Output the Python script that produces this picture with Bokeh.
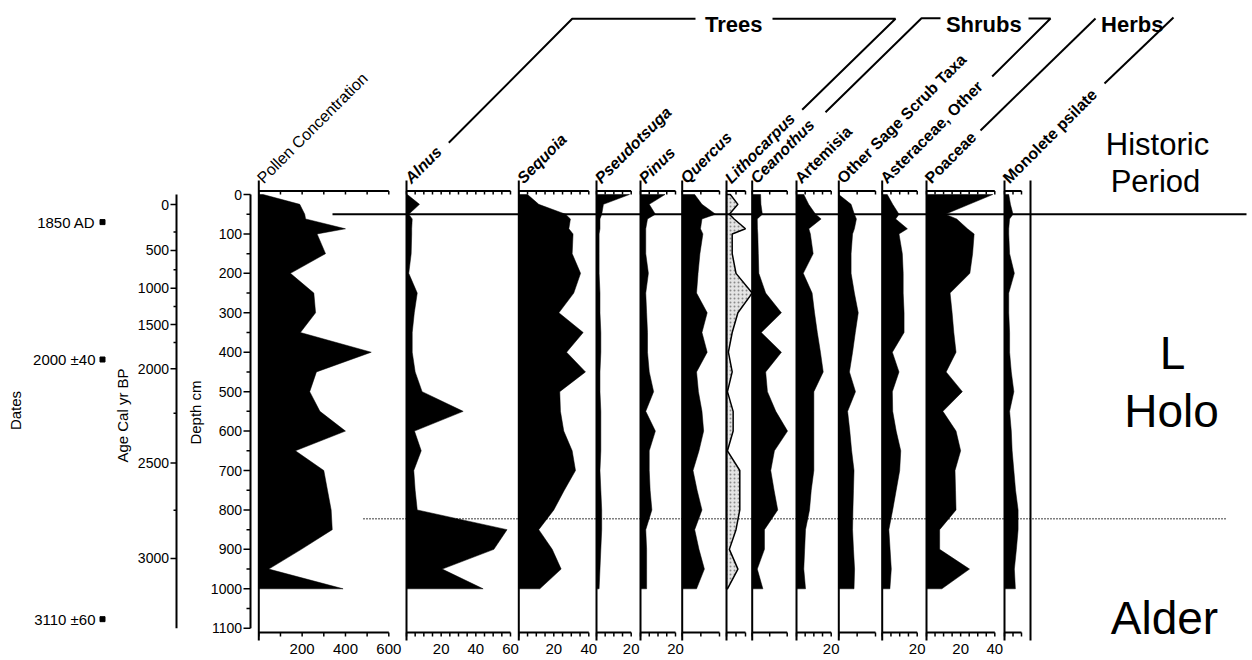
import numpy as np
from bokeh.plotting import figure
from bokeh.models import Range1d
from bokeh.embed import file_html
from bokeh.resources import INLINE
from bokeh.core.properties import value

# ---------------- DATA ----------------
depths = [0, 25, 50, 62, 87, 100, 150, 200, 250, 300, 350, 400, 450, 500,
          550, 600, 650, 700, 750, 800, 850, 900, 950, 1000]

pollen_conc = [20, 189, 212, 216, 400, 269, 308, 146, 254, 262, 192, 519, 266, 235,
               282, 400, 169, 300, 317, 334, 339, 196, 46, 389]
alnus = [0.5, 7.5, 1.3, 3.3, 3, 3, 2.7, 1.3, 6.2, 4.5, 3.3, 3.3, 5, 9,
         32.7, 4.6, 8.5, 4.2, 5, 6.2, 58, 50.4, 20.6, 44.2]
sequoia = [5, 11.4, 26.7, 29.5, 28.6, 31, 30.5, 35.3, 31.4, 22.9, 36.8, 27.3, 38.1, 23.4,
           23.8, 25.7, 30.5, 32.4, 26, 20, 11.4, 19.1, 24.2, 12]
pseudotsuga = [19, 4, 3, 2, 2, 1.5, 1.5, 1.5, 2, 2, 2.5, 2.5, 2, 2,
               2.5, 2.5, 2.5, 2, 2.5, 3, 3, 2.5, 2, 1.5]
pinus = [14, 5, 8.5, 4, 3, 3, 3, 4.5, 3, 3.5, 4, 4, 5, 7.5,
         3, 8.5, 5, 5, 5.5, 6.5, 3, 3.5, 3.5, 3.5]
quercus = [6.7, 10.6, 17.9, 10.6, 9.8, 11.1, 9.5, 8.5, 7.7, 13.4, 10.6, 13.4, 7.7, 8.7,
           10.6, 11.5, 9, 5.8, 8, 10.6, 6.7, 9, 11.9, 7.7]
lithocarpus = [2, 6, 1.5, 4, 10, 3, 3, 5, 13.5, 6, 3, 1, 3, 0.5,
               3.5, 3.5, 0.5, 7, 7, 7, 5, 1.5, 6, 0.5]
ceanothus = [4.8, 5, 5.8, 2.9, 3, 3.2, 3.5, 3.8, 7.7, 16.7, 5.2, 16.7, 7.7, 8.7,
             13.5, 20.2, 12.7, 10.6, 12.5, 14.6, 7, 7, 2.9, 6.1]
artemisia = [4.2, 7, 11, 14.2, 7.1, 8, 9.6, 3.9, 9, 10.4, 12, 13.8, 15.4, 10,
             10, 10, 10, 10, 8.5, 7.5, 5.2, 4.7, 4.2, 5.2]
other_sage = [0, 6.7, 8.5, 9.6, 8.5, 7.5, 6.7, 6.7, 8.5, 10.6, 9, 7.5, 5.8, 9.1,
              4.8, 6, 7, 8.3, 8, 7.7, 7.5, 8, 8.6, 8.3]
asteraceae = [2.9, 6, 9.6, 7.7, 14.4, 9.6, 11.5, 12, 12, 12.5, 12.5, 5.8, 9.6, 5.8,
              6, 8, 10.6, 10, 8, 6, 3.8, 4.5, 5.2, 4.4]
poaceae = [38.8, 25, 11, 17.7, 24, 27.9, 27, 25.4, 13.8, 15, 16, 17.3, 11.5, 21,
           9.6, 17.3, 20, 16.7, 17, 17.3, 7.7, 7.7, 25.2, 9]
monolete = [2.5, 3.5, 5, 3, 2.5, 2.5, 3, 5.8, 2.5, 2.5, 3, 3, 4, 5.5,
            3, 4, 4.5, 5.5, 6.5, 8, 8, 7, 5.8, 6.4]

taxa_names = ["Pollen Concentration", "Alnus", "Sequoia", "Pseudotsuga", "Pinus", "Quercus",
              "Lithocarpus", "Ceanothus", "Artemisia", "Other Sage Scrub Taxa",
              "Asteraceae, Other", "Poaceae", "Monolete psilate"]
taxa_values = [pollen_conc, alnus, sequoia, pseudotsuga, pinus, quercus, lithocarpus,
               ceanothus, artemisia, other_sage, asteraceae, poaceae, monolete]
axis_max = [600, 60, 40, 20, 20, 20, 10, 20, 20, 20, 20, 40, 10]
tick_step = [100, 5, 5, 5, 5, 10, 5, 10, 5, 10, 5, 5, 5]
tick_labels = [[200, 400, 600], [20, 40, 60], [20, 40], [20], [20], [], [], [],
               [20], [], [20], [20, 40], []]

depth_ticks = list(range(0, 1101, 100))
depth_minor = list(range(50, 1100, 100))

age_ticks = [0, 500, 1000, 1500, 2000, 2500, 3000]
age_tick_depth = [25.4, 142, 237.8, 329.7, 442, 681, 923]
age_minor_depth = [95, 191, 284, 375.6, 555, 801]

dates = ["1850 AD", "2000 \u00b140", "3110 \u00b160"]
date_depth = [70, 418.5, 1077]

historic_depth = 50
alder_depth = 822.5

groups = ["Trees", "Shrubs", "Herbs"]
zones = ["Historic", "Period", "L", "Holo", "Alder"]

# ---------------- LAYOUT ----------------
W, H = 1252, 660
Y0, PXCM = 194.0, 0.3943


def dy(img_y):
    return (img_y - Y0) / PXCM


panel_left = [258.3, 406, 518.3, 596, 640, 681.7, 726, 751.7, 796, 838.3, 881.7, 926, 1004]
panel_right = [388.3, 510, 588.3, 630.7, 675, 719, 745, 786.7, 830.7, 875, 916.7, 994.3, 1021]
label_style = ["normal", "bold italic", "bold italic", "bold italic", "bold italic",
               "bold italic", "bold italic", "bold italic", "bold", "bold", "bold",
               "bold", "bold"]

FONT = value("Liberation Sans")

p = figure(width=W, height=H, x_range=Range1d(0, W),
           y_range=Range1d(dy(H), dy(0)),
           output_backend="svg", toolbar_location=None, min_border=0,
           x_axis_location=None, y_axis_location=None)
p.grid.visible = False
p.outline_line_color = None
p.background_fill_color = "white"

TOP_AX, BOT_AX, LINE_TOP, LINE_BOT = 190.5, 632, 180, 640

for i, (name, vals) in enumerate(zip(taxa_names, taxa_values)):
    left, right, vmax = panel_left[i], panel_right[i], axis_max[i]
    k = (right - left) / vmax
    rn = "p%d" % i
    p.extra_x_ranges[rn] = Range1d((0 - left) / k, (W - left) / k)
    xs = [0] + list(vals) + [0]
    ys = [depths[0]] + list(depths) + [depths[-1]]
    if name == "Lithocarpus":
        p.patch(xs, ys, x_range_name=rn, fill_color="#e4e4e4", line_color="black",
                line_width=1.5, hatch_pattern="dot", hatch_color="#8a8a8a",
                hatch_scale=4, hatch_weight=1)
    else:
        p.patch(xs, ys, x_range_name=rn, fill_color="black", line_color="black",
                line_width=0.5)
    # panel vertical line
    p.segment(x0=[0], y0=[dy(LINE_TOP)], x1=[0], y1=[dy(LINE_BOT)], x_range_name=rn,
              line_color="black", line_width=2)
    # top and bottom axis lines
    p.segment(x0=[0, 0], y0=[dy(TOP_AX), dy(BOT_AX)], x1=[vmax, vmax],
              y1=[dy(TOP_AX), dy(BOT_AX)], x_range_name=rn, line_color="black",
              line_width=2)
    ticks = np.arange(0, vmax + tick_step[i] / 2, tick_step[i])
    p.segment(x0=ticks, y0=[dy(TOP_AX)] * len(ticks), x1=ticks,
              y1=[dy(TOP_AX + 3.5)] * len(ticks), x_range_name=rn,
              line_color="black", line_width=1.5)
    p.segment(x0=ticks, y0=[dy(BOT_AX)] * len(ticks), x1=ticks,
              y1=[dy(BOT_AX + 4)] * len(ticks), x_range_name=rn,
              line_color="black", line_width=1.5)
    if tick_labels[i]:
        p.text(x=tick_labels[i], y=[dy(648)] * len(tick_labels[i]),
               text=[str(t) for t in tick_labels[i]], x_range_name=rn,
               text_align="center", text_baseline="middle", text_font=FONT,
               text_font_size="15px", text_color="black")
    # rotated taxon label
    p.text(x=[0], y=[dy(180)], text=[name], x_range_name=rn, angle=np.pi / 4,
           x_offset=1, text_align="left", text_baseline="alphabetic", text_font=FONT,
           text_font_size="16px", text_font_style=label_style[i], text_color="black")

# Depth axis
DX = 250
p.segment(x0=[DX], y0=[0], x1=[DX], y1=[1100], line_color="black", line_width=2)
p.segment(x0=[DX - 7] * len(depth_ticks), y0=depth_ticks, x1=[DX] * len(depth_ticks),
          y1=depth_ticks, line_color="black", line_width=1.5)
p.segment(x0=[DX - 4] * len(depth_minor), y0=depth_minor, x1=[DX] * len(depth_minor),
          y1=depth_minor, line_color="black", line_width=1.5)
p.text(x=[DX - 8.5] * len(depth_ticks), y=depth_ticks, text=[str(d) for d in depth_ticks],
       text_align="right", text_baseline="middle", text_font=FONT, text_font_size="14px")

# Age axis
AX = 176
p.segment(x0=[AX], y0=[0], x1=[AX], y1=[1100], line_color="black", line_width=2)
p.segment(x0=[AX - 6] * len(age_tick_depth), y0=age_tick_depth, x1=[AX] * len(age_tick_depth),
          y1=age_tick_depth, line_color="black", line_width=1.5)
p.segment(x0=[AX - 3] * len(age_minor_depth), y0=age_minor_depth,
          x1=[AX] * len(age_minor_depth), y1=age_minor_depth, line_color="black",
          line_width=1.5)
p.text(x=[AX - 7.5] * len(age_ticks), y=age_tick_depth, text=[str(a) for a in age_ticks],
       text_align="right", text_baseline="middle", text_font=FONT, text_font_size="14px")

# Dates
p.scatter(x=[102] * len(dates), y=date_depth, marker="square", size=5,
          fill_color="black", line_color="black")
p.text(x=[95] * len(dates), y=date_depth, text=dates, text_align="right",
       text_baseline="middle", text_font=FONT, text_font_size="15px")

# axis titles
p.text(x=[15, 122, 195], y=[dy(410), dy(415), dy(412)],
       text=["Dates", "Age Cal yr BP", "Depth cm"], angle=np.pi / 2,
       text_align="center", text_baseline="middle", text_font=FONT,
       text_font_size="15px")

# zone boundary lines
p.segment(x0=[332], y0=[historic_depth], x1=[1246], y1=[historic_depth],
          line_color="black", line_width=2)
p.segment(x0=[363], y0=[alder_depth], x1=[1227], y1=[alder_depth],
          line_color="black", line_width=1.5, line_dash="1 2")
p.segment(x0=[1030], y0=[dy(LINE_TOP)], x1=[1030], y1=[dy(LINE_BOT)],
          line_color="black", line_width=2)

# group brackets
bracket_lines = [
    [(448.3, 142.3), (571.7, 18.3), (695, 18.3)],
    [(772, 18.3), (895, 18.3), (801.7, 109.3)],
    [(825, 111.7), (921, 17.7), (940, 17.7)],
    [(1028, 18), (1050, 18), (991.7, 76)],
    [(980, 130), (1095, 18)],
    [(1173, 17), (1104, 83)],
]
for pts in bracket_lines:
    p.line([q[0] for q in pts], [dy(q[1]) for q in pts], line_color="black",
           line_width=2)

p.text(x=[733.3, 983.3, 1131.7], y=[dy(24)] * 3, text=groups, text_align="center",
       text_baseline="alphabetic", text_font=FONT, text_font_size="22px",
       text_font_style="bold")

# zone labels
p.text(x=[1157, 1155], y=[dy(144), dy(181)], text=zones[:2], text_align="center",
       text_baseline="alphabetic", text_font=FONT, text_font_size="31px")
p.text(x=[1172, 1171, 1164], y=[dy(352), dy(410), dy(617)], text=zones[2:],
       text_align="center", text_baseline="alphabetic", text_font=FONT,
       text_font_size="46px")

open("out.html", "w").write(file_html(p, INLINE))
